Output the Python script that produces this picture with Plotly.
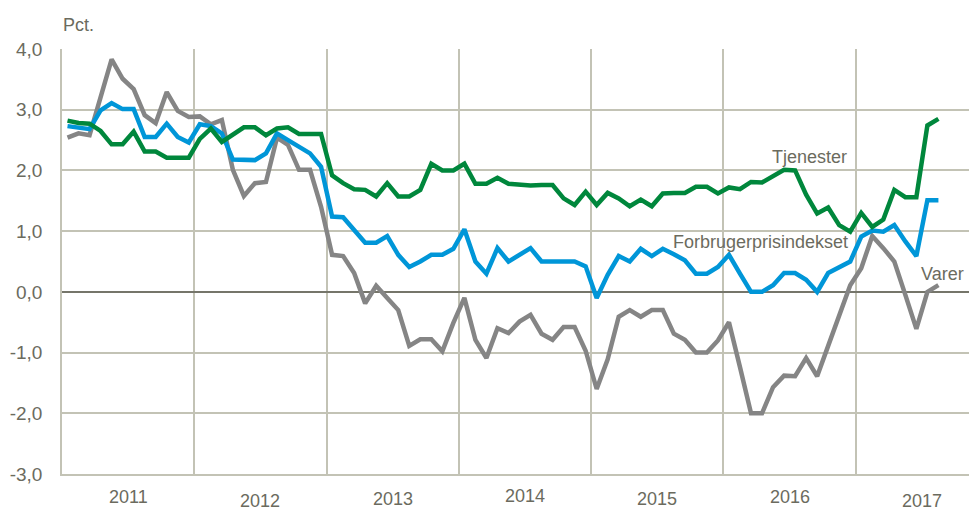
import plotly.graph_objects as go

# Monthly data Jan 2011 - Aug 2017 (pct., yoy)
years = ["2011", "2012", "2013", "2014", "2015", "2016", "2017"]
y_ticks = [-3, -2, -1, 0, 1, 2, 3, 4]
y_tick_labels = ["-3,0", "-2,0", "-1,0", "0,0", "1,0", "2,0", "3,0", "4,0"]

varer = [2.54, 2.61, 2.58, 3.20, 3.83, 3.51, 3.34, 2.91, 2.78, 3.29, 2.98, 2.88,
         2.89, 2.76, 2.83, 2.01, 1.58, 1.79, 1.81, 2.54, 2.42, 2.01, 2.01, 1.40,
         0.61, 0.59, 0.31, -0.19, 0.10, -0.10, -0.30, -0.89, -0.78, -0.78, -0.98, -0.51,
         -0.10, -0.79, -1.09, -0.60, -0.68, -0.49, -0.38, -0.69, -0.79, -0.58, -0.58, -0.97,
         -1.60, -1.11, -0.41, -0.30, -0.41, -0.30, -0.30, -0.69, -0.79, -1.00, -1.00, -0.80,
         -0.50, -1.24, -2.00, -2.00, -1.57, -1.38, -1.39, -1.09, -1.39, -0.89, -0.39, 0.11,
         0.39, 0.92, 0.72, 0.50, -0.05, -0.61, 0.00, 0.11]

tjenester = [2.82, 2.78, 2.77, 2.65, 2.43, 2.43, 2.64, 2.31, 2.31, 2.21, 2.21, 2.21,
             2.52, 2.69, 2.47, 2.58, 2.71, 2.71, 2.58, 2.69, 2.71, 2.60, 2.60, 2.60,
             1.92, 1.79, 1.69, 1.68, 1.57, 1.79, 1.57, 1.57, 1.68, 2.11, 2.00, 2.00,
             2.11, 1.78, 1.78, 1.88, 1.78, 1.77, 1.75, 1.76, 1.76, 1.54, 1.43, 1.65,
             1.43, 1.63, 1.54, 1.41, 1.52, 1.41, 1.62, 1.63, 1.63, 1.73, 1.73, 1.62,
             1.72, 1.69, 1.81, 1.80, 1.91, 2.01, 2.00, 1.60, 1.29, 1.39, 1.10, 0.99,
             1.30, 1.07, 1.19, 1.68, 1.56, 1.56, 2.74, 2.85]

fpi = [2.73, 2.70, 2.68, 2.99, 3.11, 3.01, 3.01, 2.55, 2.55, 2.77, 2.55, 2.46,
       2.76, 2.73, 2.61, 2.18, 2.17, 2.17, 2.28, 2.61, 2.50, 2.39, 2.28, 2.06,
       1.24, 1.23, 1.02, 0.81, 0.81, 0.92, 0.61, 0.41, 0.50, 0.61, 0.61, 0.71,
       1.03, 0.50, 0.30, 0.72, 0.50, 0.61, 0.72, 0.50, 0.50, 0.50, 0.50, 0.42,
       -0.10, 0.28, 0.59, 0.50, 0.71, 0.59, 0.71, 0.62, 0.52, 0.30, 0.30, 0.41,
       0.61, 0.30, 0.00, 0.00, 0.11, 0.31, 0.31, 0.20, 0.00, 0.31, 0.41, 0.50,
       0.91, 1.01, 0.99, 1.10, 0.83, 0.59, 1.51, 1.51]

# month positions (centre of each month, in months since Jan 2011)
x = [i + 0.5 for i in range(len(varer))]

TEXT = "#6b6b5e"
GRID = "#c3c3b5"
FONT = "Liberation Sans Narrow, Arial Narrow, Liberation Sans, Arial, sans-serif"

fig = go.Figure()
fig.add_trace(go.Scatter(x=x, y=varer, mode="lines", name="Varer",
                         line=dict(color="#858585", width=4.5)))
fig.add_trace(go.Scatter(x=x, y=fpi, mode="lines", name="Forbrugerprisindekset",
                         line=dict(color="#0096d8", width=4.5)))
fig.add_trace(go.Scatter(x=x, y=tjenester, mode="lines", name="Tjenester",
                         line=dict(color="#00873c", width=4.5)))

# page body has an 8px margin: work in screen pixels and shift by OFF
OFF = 8
SW, SH = 977, 510
L, R, T, B = 62, 977, 49, 474
W, H = SW - OFF, SH - OFF


def px(xp):
    return (xp - L) / (R - L)


def py(yp):
    return (B - yp) / (B - T)


annotations = []
label_y = [497, 501, 499, 496, 499, 497, 501]
for k, yr in enumerate(years):
    annotations.append(dict(x=k * 12 + 6, xref="x", y=py(label_y[k]), yref="paper",
                            text=yr, showarrow=False, xanchor="center", yanchor="middle",
                            font=dict(size=18, color=TEXT, family=FONT)))

series_labels = [("Tjenester", 809, 157, "center"), ("Forbrugerprisindekset", 760, 242, "center"),
                 ("Varer", 966, 274, "right")]
for txt, xp, yp, anc in series_labels:
    annotations.append(dict(x=px(xp), xref="paper", y=py(yp), yref="paper", text=txt,
                            showarrow=False, xanchor=anc, yanchor="middle",
                            font=dict(size=18, color=TEXT, family=FONT)))

annotations.append(dict(x=px(78), xref="paper", y=py(25), yref="paper", text="Pct.",
                        showarrow=False, xanchor="center", yanchor="middle",
                        font=dict(size=18, color=TEXT, family=FONT)))

fig.update_layout(
    width=W, height=H,
    margin=dict(l=L - OFF, r=SW - R, t=T - OFF, b=SH - B),
    paper_bgcolor="white", plot_bgcolor="white",
    showlegend=False,
    font=dict(family=FONT, color=TEXT, size=19),
    annotations=annotations,
    xaxis=dict(range=[0, 83], tickvals=[12, 24, 36, 48, 60, 72], showticklabels=False,
               showgrid=True, gridcolor=GRID, gridwidth=1.5, zeroline=False,
               showline=True, linecolor=GRID, linewidth=1.5, ticks="", mirror=False),
    yaxis=dict(range=[-3, 4], tickvals=y_ticks, ticktext=y_tick_labels,
               showgrid=True, gridcolor=GRID, gridwidth=1.5,
               zeroline=True, zerolinecolor="#75756a", zerolinewidth=2,
               showline=True, linecolor=GRID, linewidth=1.5, ticks="",
               ticklabelstandoff=14,
               tickfont=dict(size=19, color=TEXT, family=FONT)),
)

fig.write_html("out.html")
